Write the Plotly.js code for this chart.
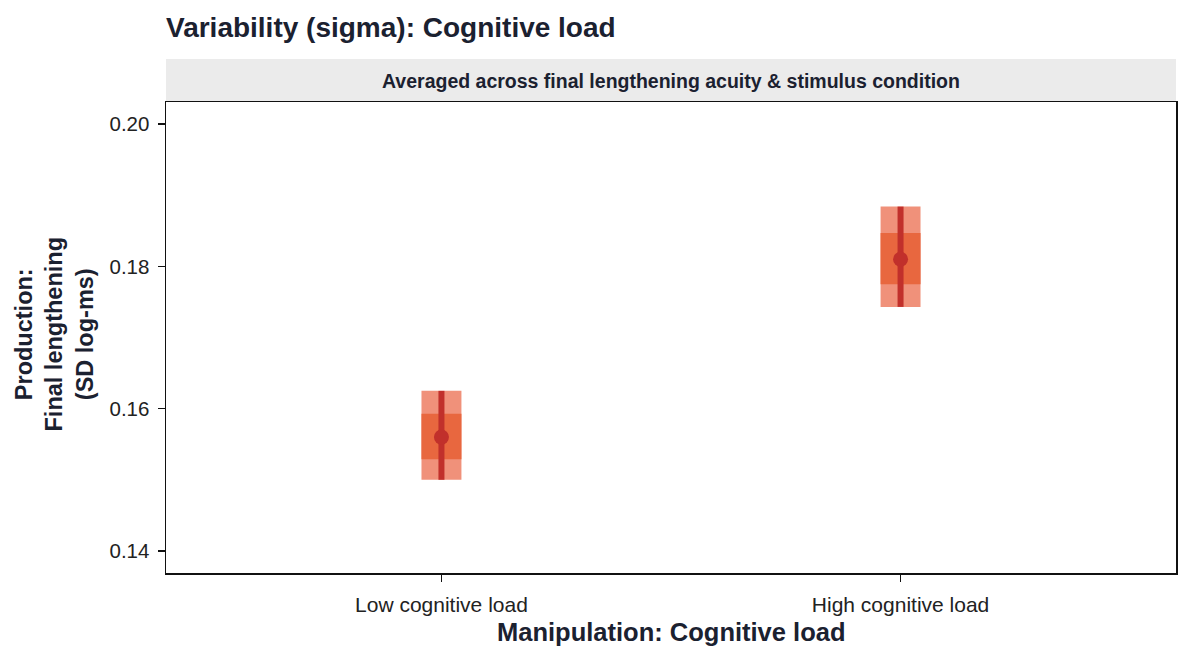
<!DOCTYPE html>
<html><head><meta charset="utf-8">
<script src="https://cdn.plot.ly/plotly-3.0.1.min.js"></script>
<style>body{margin:0;background:#fff}#c{width:1200px;height:663px}</style>
</head><body><div id="c"></div>
<script>
const categories = ["Low cognitive load", "High cognitive load"];
const median = [0.1560, 0.1810];
const outerLow = [0.1500, 0.1743];
const outerHigh = [0.1625, 0.1884];
const innerLow = [0.1529, 0.1775];
const innerHigh = [0.1593, 0.1847];
const yTicks = [0.14, 0.16, 0.18, 0.20];
const yTickText = ["0.14", "0.16", "0.18", "0.20"];

const F = "Liberation Sans, Arial, sans-serif";
const DARK = "#1b2130";
const traces = [
  {type:"bar", x:categories, base:outerLow, y:outerHigh.map((v,i)=>v-outerLow[i]), width:0.087,
   marker:{color:"#F0917A", line:{width:0}}, hoverinfo:"skip", showlegend:false},
  {type:"bar", x:categories, base:innerLow, y:innerHigh.map((v,i)=>v-innerLow[i]), width:0.087,
   marker:{color:"#E8673F", line:{width:0}}, hoverinfo:"skip", showlegend:false},
  {type:"scatter", mode:"markers", x:categories, y:median,
   marker:{color:"#C1302B", size:15},
   error_y:{type:"data", symmetric:false, array:outerHigh.map((v,i)=>v-median[i]),
            arrayminus:median.map((v,i)=>v-outerLow[i]), color:"#C1302B", thickness:6, width:0},
   showlegend:false}
];
const layout = {
  width:1200, height:663, barmode:"overlay",
  paper_bgcolor:"#fff", plot_bgcolor:"#fff",
  margin:{l:166, r:24, t:102, b:90},
  font:{family:F, color:"#222", size:20},
  title:{text:"<b>Variability (sigma): Cognitive load</b>", x:0, xref:"paper", xanchor:"left",
         y:1-27/663, yref:"container", yanchor:"middle", font:{size:28, color:DARK, family:F}},
  xaxis:{type:"category", range:[-0.6,1.6], showline:true, mirror:true, linecolor:"#111", linewidth:1.5,
         ticks:"outside", ticklen:7, tickwidth:1.5, tickcolor:"#111", showgrid:false, zeroline:false,
         ticklabelstandoff:5, tickfont:{size:21, color:"#222"}},
  yaxis:{range:[0.1369,0.2031], tickvals:yTicks, ticktext:yTickText,
         showline:true, mirror:true, linecolor:"#111", linewidth:1.5,
         ticks:"outside", ticklen:7, tickwidth:1.5, tickcolor:"#111", showgrid:false, zeroline:false,
         ticklabelstandoff:4, tickfont:{size:20.5, color:"#222"}},
  shapes:[{type:"rect", xref:"paper", yref:"paper", x0:0, x1:1, ysizemode:"pixel", yanchor:1, y0:0, y1:43,
           fillcolor:"#EBEBEB", line:{width:0}, layer:"below"}],
  annotations:[
    {text:"<b>Averaged across final lengthening acuity & stimulus condition</b>", xref:"paper", yref:"paper",
     x:0.5, y:1, yshift:21, showarrow:false, font:{size:19.5, color:DARK}, xanchor:"center", yanchor:"middle"},
    {text:"<b>Manipulation: Cognitive load</b>", xref:"paper", yref:"paper", x:0.5, y:0, yshift:-59,
     showarrow:false, font:{size:25.5, color:DARK}, xanchor:"center", yanchor:"middle"},
    {text:"<b>Production:<br>Final lengthening<br>(SD log-ms)</b>", xref:"paper", yref:"paper", x:0, y:0.5,
     xshift:-112, yshift:3, textangle:-90, showarrow:false, align:"center", font:{size:23.5, color:DARK},
     xanchor:"center", yanchor:"middle"}
  ]
};
Plotly.newPlot("c", traces, layout, {displayModeBar:false, staticPlot:true});
</script></body></html>
